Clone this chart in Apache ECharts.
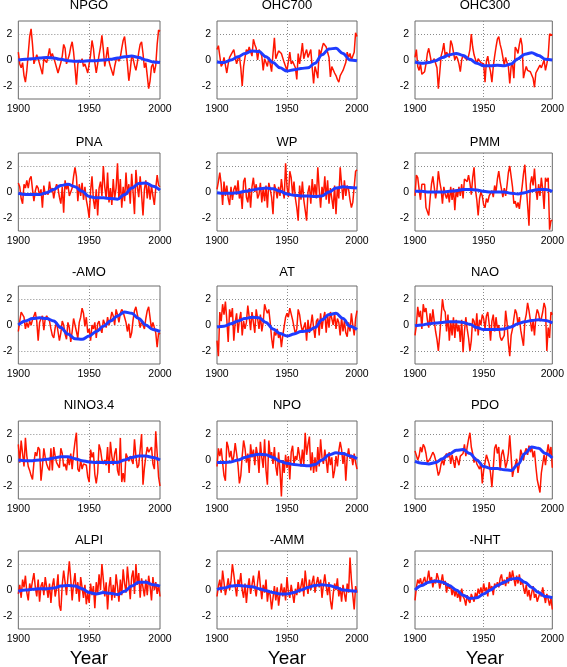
<!DOCTYPE html>
<html><head><meta charset="utf-8">
<script src="https://cdn.jsdelivr.net/npm/echarts@6/dist/echarts.min.js"></script>
<style>html,body{margin:0;padding:0;background:#fff}#c{width:567px;height:667px}</style>
</head><body><div id="c"></div>
<script>
// ---- data (annual values 1900..2000, smooth fits every 5 years 1900..2000) ----
const startYear = 1900;
const smoothStep = 5;
const panelTitles = ['NPGO','OHC700','OHC300','PNA','WP','PMM','-AMO','AT','NAO','NINO3.4','NPO','PDO','ALPI','-AMM','-NHT'];
const xTicks = [1900, 1950, 2000];
const yTicks = [-2, 0, 2];
const xLabel = 'Year';

const npgo = [0.6,-0.3,-0.6,-0.2,-1.2,-1.7,-0.8,0.5,1.8,2.4,
 1.2,-0.3,-0.2,0.4,0.1,-0.3,-0.7,-1.1,0.1,0.2,
 -0.2,0.3,0.9,0.2,0.5,0.4,-0.2,-0.6,-1.0,-0.6,
 -0.2,0.3,1.2,0.9,-0.3,-0.2,0.4,1.0,1.4,0.6,
 -0.6,-1.9,-0.3,0.0,-0.2,0.1,-0.5,-0.3,-0.2,-1.0,
 -0.3,0.4,1.5,0.9,-0.2,-1.0,-0.3,0.4,1.0,1.9,
 0.8,-0.5,0.2,1.0,-0.1,-0.5,-0.6,-1.2,-0.5,0.0,
 0.2,-0.1,0.2,0.9,1.5,1.8,0.8,-0.3,-1.6,-0.8,
 0.3,0.1,-0.4,-0.8,-0.2,0.6,1.2,1.4,0.5,-0.6,
 -0.2,-1.2,-2.2,-1.6,-0.5,-0.3,-1.0,-0.4,1.2,2.3,2.2];
const npgoFit = [0.0,0.05,0.1,0.15,0.2,0.15,0.05,-0.05,-0.1,-0.1,-0.05,-0.05,0.0,0.05,0.15,0.25,0.3,0.2,0.0,-0.15,-0.2];

const ohc700 = [0.8,1.1,0.3,-0.5,-0.3,0.2,-0.4,-1.0,-0.3,0.2,
 0.3,0.6,0.8,0.2,-0.3,0.1,0.3,-0.6,-2.0,-0.5,
 0.2,0.8,0.6,1.0,0.9,0.3,1.6,1.2,0.9,0.0,
 0.8,0.6,0.3,-0.8,0.1,-0.2,-0.5,0.2,-0.3,-0.9,
 0.5,1.7,0.1,0.4,0.7,0.6,0.5,0.4,-0.2,-0.5,
 -0.8,-0.1,0.6,-0.3,-0.1,0.0,-0.6,-1.5,0.5,-0.3,
 0.4,1.3,0.1,0.5,0.8,0.2,0.5,0.8,-0.6,-1.8,
 -0.5,-0.9,-1.4,0.8,0.4,0.9,1.3,1.2,1.0,0.6,
 0.2,-1.3,-0.5,-0.6,-1.0,-1.2,-1.5,-1.7,-1.2,-1.0,
 -0.8,-0.5,-0.2,0.6,0.2,0.5,0.0,0.3,0.6,2.1,1.8];
const ohc700Fit = [-0.15,-0.2,0.0,0.25,0.5,0.7,0.65,0.25,-0.2,-0.6,-0.85,-0.75,-0.65,-0.6,-0.25,0.4,0.85,0.9,0.5,0.0,-0.05];

const ohc300 = [0.2,0.8,-0.5,-0.8,-0.3,-1.1,-1.0,-0.9,-0.3,0.5,
 0.9,1.0,-0.2,-0.1,0.1,0.0,-0.6,-2.2,-1.0,0.3,
 0.7,1.3,0.3,0.6,0.4,0.2,1.5,1.2,1.3,0.0,
 0.3,0.1,-0.3,-0.9,0.0,0.4,0.2,0.3,0.0,0.3,
 0.8,2.0,1.0,0.4,0.4,-0.3,0.1,0.1,-0.2,-0.2,
 -0.3,-1.7,-0.1,0.3,-0.4,-0.9,-1.7,-0.5,0.3,1.0,
 1.6,1.8,1.2,0.8,0.2,-0.4,0.2,-0.2,-0.5,-1.8,
 -0.5,-0.3,-1.4,1.0,0.8,0.5,1.2,1.7,1.1,-1.4,
 -0.9,-0.5,-0.8,-0.7,-0.9,-1.0,-1.4,-2.1,-1.0,-0.8,
 -0.7,-0.4,-0.6,-0.3,0.0,-0.8,-0.3,0.3,2.0,2.0,1.9];
const ohc300Fit = [-0.15,-0.25,-0.2,-0.05,0.2,0.4,0.5,0.35,0.05,-0.25,-0.45,-0.45,-0.4,-0.45,-0.3,0.1,0.45,0.55,0.35,0.05,0.0];

const pna = [0.7,0.4,-0.5,-0.9,0.6,0.3,0.9,0.3,1.0,1.2,
 0.2,-0.7,0.1,0.5,0.3,-0.3,0.2,-1.2,0.5,-0.2,
 0.0,-0.2,0.8,0.0,0.3,-0.5,0.2,0.6,0.3,-0.4,
 -0.9,0.4,-1.6,0.9,0.2,0.6,-0.3,0.0,0.3,1.2,
 1.9,1.2,-0.7,0.6,-0.3,0.7,-0.6,0.4,-0.6,-1.2,
 -2.0,0.1,1.2,-0.6,-1.3,0.2,-1.8,0.3,0.8,-0.3,
 2.0,0.4,-0.5,1.5,-0.8,0.3,-1.0,1.0,-0.5,0.3,
 2.2,-0.6,1.0,-1.2,0.4,-0.7,1.5,-0.2,0.6,-0.9,
 1.4,0.0,-1.7,1.7,0.4,-0.4,1.2,-0.2,-1.8,0.2,
 0.9,-0.5,0.6,-0.6,0.5,-0.3,-1.0,0.3,1.3,0.5,0.4];
const pnaFit = [-0.1,-0.2,-0.2,-0.2,-0.05,0.2,0.5,0.6,0.4,0.05,-0.35,-0.45,-0.45,-0.5,-0.55,-0.2,0.3,0.65,0.7,0.45,0.15];

const wp = [0.2,0.8,1.5,0.6,-1.0,0.8,-0.3,0.5,-0.5,-1.0,
 0.4,-0.6,0.2,0.5,-0.2,0.9,-0.5,0.0,-1.3,0.8,
 1.1,-0.4,-0.8,0.3,-1.2,0.4,1.1,0.0,0.6,-0.5,
 -0.2,0.7,-0.8,0.3,-0.7,0.5,-1.2,0.7,0.2,-0.4,
 -1.7,0.6,0.2,-0.5,0.4,-0.3,1.0,0.1,-0.5,2.2,
 0.4,-0.4,1.6,1.1,-0.2,0.8,-0.5,-1.2,-2.2,0.5,
 -0.6,0.8,-0.6,-0.5,-2.2,0.0,0.5,-0.9,1.0,-0.3,
 0.6,-0.5,1.9,0.2,-1.2,0.4,-0.3,1.2,-0.6,0.9,
 -0.9,0.3,-0.5,-1.3,0.5,-1.7,0.4,-0.5,1.9,0.6,
 -0.6,0.9,-0.3,0.5,0.2,-0.6,-1.2,-0.8,0.4,1.6,1.7];
const wpFit = [-0.05,-0.1,-0.1,-0.05,0.05,0.15,0.25,0.3,0.25,0.05,-0.15,-0.25,-0.3,-0.3,-0.35,-0.3,0.0,0.3,0.4,0.35,0.3];

const pmm = [-0.3,1.3,1.1,0.2,-0.6,0.6,0.7,0.6,-1.2,-1.5,
 -1.8,-0.5,0.6,1.2,0.4,-0.5,0.2,1.6,0.8,0.2,
 -0.9,0.4,-0.2,-0.5,0.0,-0.8,0.4,-0.6,0.3,-1.4,
 0.2,-0.4,0.4,-0.3,0.6,-0.5,1.0,1.1,0.8,1.3,
 0.7,-0.2,1.1,1.9,0.2,-0.6,-1.8,-0.5,0.0,-0.3,
 -1.0,-1.2,-0.5,-0.8,-0.3,-0.2,0.1,-0.4,0.5,0.0,
 1.0,1.6,0.8,0.2,-0.4,0.3,-0.3,0.5,1.5,2.0,
 1.2,0.4,-0.9,-0.7,-1.2,-0.8,-1.3,-0.4,0.4,1.4,
 2.1,0.5,-1.0,-2.6,0.6,1.2,0.5,1.8,0.3,-0.6,
 0.6,-0.3,1.1,0.2,-1.3,1.1,0.8,1.1,-2.9,-2.2,-2.2];
const pmmFit = [0.05,0.05,0.0,0.0,0.0,0.05,0.1,0.2,0.2,0.15,0.05,0.0,0.0,0.0,-0.1,-0.15,-0.05,0.1,0.2,0.2,0.05];

const amo = [-0.5,0.3,1.0,1.1,0.6,-0.3,0.2,-0.2,0.3,0.0,
 0.4,0.7,1.0,0.3,-1.2,0.2,0.5,0.7,-0.4,0.5,
 0.7,0.8,0.3,-0.3,-0.8,-1.0,-0.2,0.2,-0.5,-1.2,
 -0.6,0.3,0.0,-0.7,-1.1,0.2,-0.2,-1.3,-0.5,0.5,
 0.4,-0.5,-1.0,0.2,0.6,1.3,0.9,-0.1,0.6,-0.6,
 -0.3,-1.2,0.0,-0.3,0.2,-1.0,0.1,0.3,-0.3,-0.6,
 0.4,0.5,-0.2,0.6,0.0,0.4,1.0,0.7,0.0,1.2,
 0.8,0.2,0.9,1.2,1.0,0.6,0.2,-0.5,0.1,-1.0,
 -0.6,0.4,1.1,1.4,0.8,0.4,-0.2,0.3,0.0,-0.3,
 0.5,1.1,1.4,1.4,-0.3,0.2,-0.2,-0.6,-1.7,-0.6,-0.7];
const amoFit = [0.0,0.3,0.5,0.55,0.5,0.3,-0.2,-0.7,-1.05,-1.1,-0.85,-0.5,-0.1,0.3,0.7,1.0,0.9,0.5,0.0,-0.35,-0.5];

const at = [-1.2,-2.4,1.0,0.3,1.6,0.8,1.8,0.4,-1.3,1.2,
 0.6,1.3,-1.2,0.2,0.9,-0.6,0.4,1.0,-0.8,0.3,
 -0.3,0.2,1.5,0.6,-0.4,1.0,0.2,-0.6,1.2,0.5,
 -0.3,0.8,-0.5,0.2,1.6,1.2,0.9,1.2,0.2,-1.0,
 -1.8,-0.5,-0.8,-0.3,-1.0,-0.6,-1.7,-0.8,-0.7,0.6,
 0.9,0.6,1.3,1.4,0.4,0.5,-0.7,-0.3,1.2,0.8,
 0.0,-0.5,-0.4,0.2,-1.2,0.4,-0.6,0.0,0.8,-0.2,
 -1.0,0.3,0.5,-0.8,0.9,-0.3,0.5,1.0,-0.6,0.8,
 -0.2,1.0,0.5,0.0,0.9,-0.3,0.5,0.2,-0.8,0.6,
 -0.5,0.3,-0.6,-0.9,0.2,-0.5,0.9,0.0,-0.8,0.5,1.1];
const atFit = [-0.15,-0.1,0.1,0.3,0.5,0.6,0.55,0.2,-0.3,-0.65,-0.85,-0.7,-0.5,-0.45,-0.2,0.4,0.8,0.9,0.5,-0.1,-0.35];

const nao = [-0.8,0.0,1.4,0.6,1.1,-0.3,1.6,1.0,1.3,0.4,
 -0.2,0.9,0.0,1.2,0.3,-0.5,-1.1,-2.0,-0.8,0.6,
 2.0,1.2,1.0,-0.5,0.8,-1.2,0.3,-0.8,0.6,-1.0,
 0.4,-0.5,0.0,-1.3,0.4,-2.1,-0.5,0.6,-0.3,-1.0,
 -2.0,-1.2,0.5,0.3,-0.5,0.9,-0.8,0.4,0.0,0.8,
 0.5,-0.3,0.7,1.0,0.1,-1.2,0.3,0.8,-0.5,0.6,
 -0.3,0.0,-0.9,-1.2,-1.3,-0.8,1.1,0.2,-1.4,-2.4,
 -0.8,-0.3,0.5,1.2,0.9,0.0,0.6,-0.4,-1.0,-1.6,
 0.3,0.8,1.7,1.1,0.4,-0.5,0.3,-0.8,0.6,1.2,
 0.9,0.3,0.5,1.0,1.7,1.3,-2.0,-0.2,-1.0,1.0,0.8];
const naoFit = [-0.05,0.0,0.1,0.15,0.2,0.25,0.25,0.2,0.05,-0.2,-0.35,-0.35,-0.35,-0.3,-0.15,0.1,0.25,0.35,0.4,0.35,0.15];

const nino34 = [1.2,-0.2,1.5,0.5,-0.5,1.7,0.3,-0.5,-0.8,-1.2,
 -1.5,-0.2,0.6,0.3,1.0,0.8,-1.6,-0.5,0.9,0.2,
 -0.3,-0.6,-0.8,0.9,-0.8,1.0,0.3,-0.2,-0.1,-0.6,
 0.9,0.5,-0.5,-0.3,-0.8,0.2,-0.4,0.5,-0.7,0.5,
 1.4,2.1,-0.7,-0.9,0.0,-0.7,-0.3,-0.3,-0.4,-1.3,
 -1.7,0.8,0.2,0.6,-1.1,-1.8,-1.0,1.2,0.8,0.0,
 -0.3,0.0,-0.4,1.0,-1.0,1.4,0.3,-0.4,0.5,0.9,
 -0.8,-1.2,1.7,-1.7,-1.0,-1.7,0.5,0.6,-0.1,0.3,
 0.2,-0.3,1.6,0.3,-0.6,-0.4,0.8,2.0,-1.9,-0.6,
 0.3,1.0,0.6,0.5,1.0,-0.3,-0.7,2.2,0.5,-1.3,-2.0];
const nino34Fit = [0.0,-0.05,-0.05,0.0,0.05,0.15,0.25,0.25,0.1,-0.05,-0.15,-0.2,-0.2,-0.2,-0.2,0.0,0.2,0.3,0.3,0.2,0.0];

const npo = [-0.5,0.9,0.3,0.9,-0.2,-1.2,-1.6,1.4,1.0,0.2,
 0.7,-0.2,0.3,1.3,0.5,-0.4,-1.8,-1.2,0.3,1.5,
 0.9,-0.2,0.5,-1.0,1.2,0.2,0.8,-0.4,1.0,0.4,
 -1.0,1.4,0.2,-0.6,1.6,-0.8,-1.9,1.5,0.3,0.6,
 -0.3,1.0,-0.5,-1.2,0.6,-0.8,-2.8,0.0,-1.0,0.4,
 -0.6,0.3,-1.5,0.6,1.1,-0.3,0.3,0.0,1.0,0.3,
 -0.5,0.8,-0.3,2.1,0.4,1.2,1.8,-0.8,0.6,-1.0,
 0.2,-0.9,1.0,-0.5,1.6,0.2,-0.3,0.8,0.0,-1.0,
 0.6,-0.4,0.2,-1.4,-0.8,0.3,-0.5,0.7,1.4,0.8,
 -0.3,0.6,-1.6,0.2,0.9,0.1,0.4,-0.4,0.5,-0.2,-0.7];
const npoFit = [-0.2,-0.2,-0.15,0.0,0.2,0.35,0.45,0.4,0.2,-0.1,-0.25,-0.35,-0.4,-0.45,-0.35,0.0,0.4,0.55,0.5,0.3,0.1];

const pdo = [0.7,0.8,0.0,0.3,1.0,0.6,1.2,1.0,0.5,-0.2,
 -0.3,0.1,0.2,0.6,0.4,0.0,-0.6,-1.2,-0.9,-0.3,
 0.0,-0.4,0.3,0.5,0.2,0.6,-0.3,0.4,-0.1,-0.6,
 0.3,0.0,-0.4,0.3,0.2,0.5,1.2,0.3,1.0,1.6,
 2.1,1.0,0.5,-0.2,0.2,-0.3,-0.5,-0.7,-0.2,-1.8,
 -0.8,-0.2,0.4,0.5,-0.3,-1.0,-2.1,-0.6,0.9,1.2,
 0.5,1.0,-0.8,0.4,0.8,0.2,-0.6,-0.2,0.5,1.9,
 0.3,-1.3,-0.7,-0.4,0.1,-1.0,-0.3,0.8,0.4,0.0,
 0.6,0.9,0.4,1.1,0.6,1.0,0.2,0.7,-0.5,-1.5,
 -2.0,-2.5,-1.0,-0.3,0.4,-0.4,0.5,1.2,0.4,1.0,-0.6];
const pdoFit = [-0.1,-0.25,-0.3,-0.2,0.1,0.45,0.75,0.8,0.5,0.0,-0.5,-0.65,-0.65,-0.75,-0.8,-0.35,0.5,1.0,0.9,0.5,0.15];

const alpi = [-0.3,0.4,-0.6,0.8,0.2,1.1,-0.2,-0.8,0.5,0.0,
 0.7,1.3,0.2,-0.5,0.8,-0.9,0.3,0.6,-0.4,1.0,
 0.2,-0.6,0.5,-1.0,0.3,0.9,-0.5,0.1,1.2,-1.2,
 -1.6,0.4,1.5,0.6,-0.4,1.0,2.2,0.8,-0.8,0.5,
 1.3,-0.3,0.6,-0.9,1.0,0.2,-0.6,0.4,-1.1,-0.2,
 -1.0,0.5,-0.4,0.3,-1.4,0.6,-0.3,1.2,0.0,2.0,
 0.8,-0.5,0.6,-1.5,0.2,1.0,-0.8,0.4,-0.6,1.2,
 0.3,-0.9,0.8,-0.4,1.6,0.5,-0.2,1.8,0.6,-0.7,
 1.0,1.5,-0.3,2.0,0.4,1.3,-0.6,0.9,0.2,-0.5,
 0.8,-0.4,1.1,0.3,-0.8,1.0,0.0,0.6,-0.3,0.4,-0.5];
const alpiFit = [-0.1,0.0,0.05,0.1,0.1,0.15,0.3,0.35,0.3,0.1,-0.2,-0.3,-0.2,-0.25,-0.35,-0.1,0.3,0.6,0.6,0.4,0.3];

const amm = [-0.5,0.3,0.8,-0.2,1.5,0.6,-0.4,0.2,0.9,0.0,
 0.7,2.0,1.2,0.3,-0.5,0.8,0.4,1.3,0.0,-0.6,
 0.5,-1.0,0.2,0.9,-0.3,0.4,1.1,0.2,-0.5,0.6,
 1.5,0.3,-0.7,0.4,-0.2,0.8,-0.9,0.0,-0.4,-1.5,
 -0.6,0.3,-0.8,0.2,-1.2,-0.3,0.5,-0.5,0.2,-0.8,
 1.0,-0.2,-0.6,0.4,-0.3,-1.0,0.1,-0.4,0.6,-0.2,
 0.3,0.9,-0.5,1.5,0.4,-0.3,0.8,0.0,0.6,1.1,
 -0.2,0.5,1.0,0.2,0.8,-0.6,0.4,1.2,0.3,-0.4,
 0.6,-0.8,-1.5,-0.3,0.5,0.0,0.9,-0.5,0.2,-0.9,
 0.4,-0.3,-0.9,0.5,-0.2,2.5,0.8,-0.4,-1.5,0.3,-0.2];
const ammFit = [0.05,0.15,0.3,0.35,0.3,0.25,0.1,-0.05,-0.2,-0.3,-0.3,-0.2,0.0,0.2,0.35,0.4,0.35,0.2,0.0,-0.05,-0.1];

const nht = [-0.8,0.2,0.8,0.5,0.9,0.3,0.7,1.0,0.4,0.8,
 1.5,0.6,1.0,0.2,0.8,0.5,1.3,0.9,0.1,0.6,
 1.2,0.4,0.7,-0.2,0.5,0.1,0.3,-0.4,0.2,-0.5,
 0.0,-0.6,-0.2,-0.9,0.1,-0.5,-0.7,-1.2,-0.4,-0.8,
 -1.0,-0.3,-0.6,-0.9,-0.2,-0.6,0.1,-0.3,0.2,-0.4,
 0.5,-0.1,0.2,-0.5,0.6,0.0,0.3,-0.4,0.5,0.2,
 0.6,0.2,0.9,1.2,0.4,0.8,0.3,1.0,0.5,1.4,
 0.7,1.5,0.9,0.3,1.1,0.5,1.2,0.4,0.8,0.2,
 -0.3,0.4,-0.5,0.0,-0.8,-0.2,0.3,-0.6,-0.3,-0.9,
 -0.8,-0.2,-0.5,0.2,-0.4,-1.0,-0.3,-0.7,-1.2,-0.6,-1.5];
const nhtFit = [0.0,0.35,0.6,0.7,0.6,0.35,0.0,-0.4,-0.65,-0.6,-0.3,0.0,0.35,0.6,0.85,0.9,0.6,0.2,-0.2,-0.5,-0.6];

const rawSeries = [npgo, ohc700, ohc300, pna, wp, pmm, amo, at, nao, nino34, npo, pdo, alpi, amm, nht];
const fitSeries = [npgoFit, ohc700Fit, ohc300Fit, pnaFit, wpFit, pmmFit, amoFit, atFit, naoFit, nino34Fit, npoFit, pdoFit, alpiFit, ammFit, nhtFit];

// ---- layout ----
const colLeft = [18, 217, 415];
const colWidth = [142, 140, 140];
const rowTop = [21, 153, 286, 421, 551];
const plotH = 78;
const titleY = [5.5, 142, 272.5, 405.5, 540];
const FONT = '"Liberation Sans", Arial, Helvetica, sans-serif';

const grid = [], xAxis = [], yAxis = [], series = [], title = [];
panelTitles.forEach((name, k) => {
  const r = Math.floor(k / 3), c = k % 3;
  grid.push({left: colLeft[c], top: rowTop[r], width: colWidth[c], height: plotH,
    show: true, borderColor: '#6a6a6a', borderWidth: 1, backgroundColor: '#fff'});
  xAxis.push({type: 'value', gridIndex: k, min: xTicks[0], max: xTicks[2], interval: xTicks[1] - xTicks[0],
    axisLine: {show: false}, axisTick: {show: false},
    axisLabel: {color: '#000', fontSize: 10.5, fontFamily: FONT, margin: 5, formatter: v => String(v)},
    splitLine: {show: true, lineStyle: {color: ['rgba(0,0,0,0)', '#8a8a8a'], type: [1, 2], width: 1}}});
  yAxis.push({type: 'value', gridIndex: k, min: -3, max: 3, interval: 1,
    axisLine: {show: false}, axisTick: {show: false},
    axisLabel: {color: '#000', fontSize: 10.5, fontFamily: FONT, margin: 6,
      formatter: v => (yTicks.indexOf(v) >= 0 ? String(v) : '')},
    splitLine: {show: true, lineStyle: {color: ['rgba(0,0,0,0)', '#8a8a8a'], type: [1, 2], width: 1}}});
  series.push({type: 'line', xAxisIndex: k, yAxisIndex: k, showSymbol: false, symbol: 'none',
    data: rawSeries[k].map((v, i) => [startYear + i, v]),
    lineStyle: {color: '#ff1500', width: 1.5}, z: 2, animation: false});
  series.push({type: 'line', xAxisIndex: k, yAxisIndex: k, showSymbol: false, symbol: 'none',
    smooth: 0.35, smoothMonotone: 'x',
    data: fitSeries[k].map((v, i) => [startYear + smoothStep * i, v]),
    lineStyle: {color: '#1f3cff', width: 3}, z: 3, animation: false});
  title.push({text: name, left: colLeft[c] + colWidth[c] / 2, top: titleY[r], padding: 0,
    textAlign: 'center', textVerticalAlign: 'middle',
    textStyle: {fontSize: 13, fontWeight: 'normal', color: '#000', fontFamily: FONT}});
});
[0, 1, 2].forEach(c => {
  title.push({text: xLabel, left: colLeft[c] + colWidth[c] / 2, top: 659, padding: 0,
    textAlign: 'center', textVerticalAlign: 'middle',
    textStyle: {fontSize: 19, fontWeight: 'normal', color: '#000', fontFamily: FONT}});
});

const chart = echarts.init(document.getElementById('c'), null, {renderer: 'canvas'});
chart.setOption({animation: false, backgroundColor: '#fff', title, grid, xAxis, yAxis, series});
</script></body></html>
